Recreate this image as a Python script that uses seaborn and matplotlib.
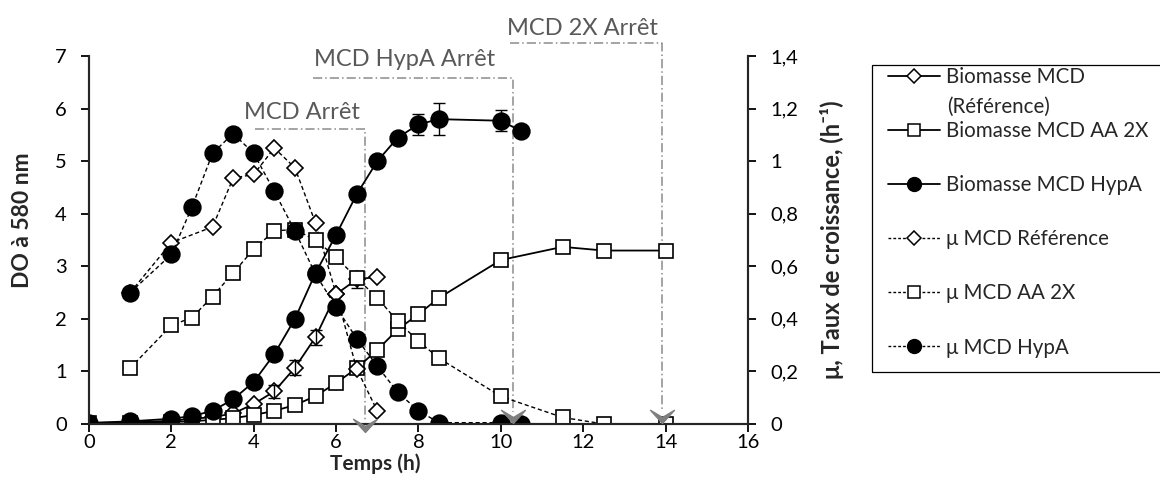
import matplotlib
matplotlib.use('Agg')
import matplotlib.pyplot as plt
import seaborn as sns
import numpy as np
from matplotlib.path import Path
from matplotlib.lines import Line2D
from matplotlib.patches import Rectangle
from matplotlib.ticker import FuncFormatter, MultipleLocator

# biomass (left axis, DO 580 nm)
t_bio_ref = [0, 1, 2, 2.5, 3, 3.5, 4, 4.5, 5, 5.5, 6, 6.5, 7]
bio_ref = [0.02, 0.03, 0.06, 0.1, 0.13, 0.2, 0.38, 0.62, 1.07, 1.65, 2.47, 2.75, 2.8]
t_bio_ref_err = [4.5, 5, 5.5, 6.5]
bio_ref_err = [0.13, 0.14, 0.14, 0.17]

t_bio_2x = [0, 1, 2, 2.5, 3, 3.5, 4, 4.5, 5, 5.5, 6, 6.5, 7, 7.5, 8, 8.5, 10, 11.5, 12.5, 14]
bio_2x = [0.02, 0.02, 0.04, 0.05, 0.08, 0.11, 0.17, 0.25, 0.36, 0.53, 0.78, 1.06, 1.41, 1.8, 2.09, 2.4, 3.12, 3.37, 3.3, 3.3]

t_bio_hypa = [0, 1, 2, 2.5, 3, 3.5, 4, 4.5, 5, 5.5, 6, 6.5, 7, 7.5, 8, 8.5, 10, 10.5]
bio_hypa = [0.02, 0.05, 0.1, 0.15, 0.25, 0.47, 0.8, 1.33, 2.0, 2.87, 3.6, 4.37, 5.0, 5.45, 5.7, 5.8, 5.77, 5.57]
t_bio_hypa_err = [8, 8.5, 10]
bio_hypa_err = [0.2, 0.31, 0.2]

# growth rate (right axis, h-1)
t_mu_ref = [1, 2, 3, 3.5, 4, 4.5, 5, 5.5, 6, 6.5, 7]
mu_ref = [0.5, 0.69, 0.75, 0.935, 0.95, 1.05, 0.975, 0.765, 0.495, 0.21, 0.05]

t_mu_2x = [1, 2, 2.5, 3, 3.5, 4, 4.5, 5, 5.5, 6, 6.5, 7, 7.5, 8, 8.5, 10, 11.5, 12.5, 14]
mu_2x = [0.213, 0.375, 0.405, 0.485, 0.575, 0.665, 0.735, 0.74, 0.7, 0.635, 0.555, 0.48, 0.39, 0.315, 0.25, 0.105, 0.025, 0.0, 0.0]

t_mu_hypa = [1, 2, 2.5, 3, 3.5, 4, 4.5, 5, 5.5, 6, 6.5, 7, 7.5, 8, 8.5, 10, 10.5]
mu_hypa = [0.5, 0.645, 0.825, 1.03, 1.105, 1.03, 0.885, 0.735, 0.57, 0.445, 0.325, 0.22, 0.12, 0.05, 0.005, 0.005, 0.0]

labels = ['Biomasse MCD', 'Biomasse MCD AA 2X', 'Biomasse MCD HypA',
          'μ MCD Référence', 'μ MCD AA 2X', 'μ MCD HypA']
label_cont = '(Référence)'

# stop annotations: label, x start of bracket, x of stop, y bracket, text x, text y, arrow tip y
stops = [('MCD Arrêt', 4.03, 6.7, 5.61, 5.18, 5.93, -0.15),
         ('MCD HypA Arrêt', 5.44, 10.29, 6.58, 7.66, 6.94, 0.02),
         ('MCD 2X Arrêt', 10.22, 13.91, 7.24, 11.97, 7.53, 0.02)]

sns.set_style('ticks')
plt.rcParams['font.family'] = ['Lato', 'DejaVu Sans']

fig = plt.figure(figsize=(11.6, 4.86), dpi=100)
ax = fig.add_axes([0.0767, 0.1276, 0.5681, 0.757])
ax2 = ax.twinx()

DASH = (0, (3, 2))


def draw(a, x, y, marker, ms, filled, ls, lw):
    sns.lineplot(x=x, y=y, ax=a, color='black', marker=marker, markersize=ms,
                 markerfacecolor='black' if filled else 'white',
                 markeredgecolor='black', markeredgewidth=1.2,
                 linestyle=ls, linewidth=lw, estimator=None, sort=False,
                 legend=False, errorbar=None)


draw(ax, t_bio_ref, bio_ref, 'D', 8.6, False, '-', 1.3)
draw(ax, t_bio_2x, bio_2x, 's', 10, False, '-', 1.3)
draw(ax, t_bio_hypa, bio_hypa, 'o', 12, True, '-', 1.3)
ax.errorbar(t_bio_ref_err, [bio_ref[t_bio_ref.index(t)] for t in t_bio_ref_err],
            yerr=bio_ref_err, fmt='none', ecolor='black', elinewidth=1, capsize=4, zorder=5)
ax.errorbar(t_bio_hypa_err, [bio_hypa[t_bio_hypa.index(t)] for t in t_bio_hypa_err],
            yerr=bio_hypa_err, fmt='none', ecolor='black', elinewidth=1, capsize=4, zorder=5)

draw(ax2, t_mu_ref, mu_ref, 'D', 8.6, False, DASH, 1.0)
draw(ax2, t_mu_2x, mu_2x, 's', 10, False, DASH, 1.0)
draw(ax2, t_mu_hypa, mu_hypa, 'o', 12, True, DASH, 1.0)

# chevron arrow head, tip at origin
chevron = Path([(0, 0), (-1, 1.1), (0, 0.5), (1, 1.1), (0, 0)],
               [Path.MOVETO, Path.LINETO, Path.LINETO, Path.LINETO, Path.CLOSEPOLY])
for lab, x0, x1, yl, xt, yt, tip in stops:
    ax.plot([x0, x1, x1], [yl, yl, tip + 0.2], color='#8c8c8c', lw=1.1,
            linestyle=(0, (6, 2, 1, 2)), clip_on=False, zorder=1)
    ax2.plot([x1], [tip / 5], marker=chevron, ms=19, color='#7f7f7f', mec='#7f7f7f',
             clip_on=False, zorder=6)
    ax.text(xt, yt, lab, ha='center', va='center', color='#595959', fontsize=17, clip_on=False)

ax.set_xlim(0, 16)
ax.set_ylim(0, 7)
ax2.set_ylim(0, 1.4)
ax.xaxis.set_major_locator(MultipleLocator(2))
ax.yaxis.set_major_locator(MultipleLocator(1))
ax2.yaxis.set_major_locator(MultipleLocator(0.2))
ax2.yaxis.set_major_formatter(FuncFormatter(lambda v, p: ('%g' % round(v, 1)).replace('.', ',')))

for a in (ax, ax2):
    a.spines['top'].set_visible(False)
    for s in a.spines.values():
        s.set_linewidth(1.5)
    a.tick_params(direction='out', length=6, width=1.3, labelsize=14.5, colors='black')
ax.tick_params(axis='y', pad=10)
ax2.tick_params(axis='y', pad=10)
ax.tick_params(axis='x', pad=1)

ax.set_xlabel('Temps (h)', fontsize=15, fontweight='bold')
ax.xaxis.set_label_coords(0.435, -0.079)
ax.set_ylabel('DO à 580 nm', fontsize=16.5, fontweight='bold')
ax.yaxis.set_label_coords(-0.085, 0.554)
ax2.set_ylabel('μ, Taux de croissance, (h⁻¹)', fontsize=17, fontweight='bold')
ax2.yaxis.set_label_coords(1.11, 0.5)

handles = [
    Line2D([], [], color='black', lw=1.3, marker='D', ms=7, mfc='white', mec='black', mew=1.1),
    Line2D([], [], color='black', lw=1.3, marker='s', ms=8, mfc='white', mec='black', mew=1.1),
    Line2D([], [], color='black', lw=1.3, marker='o', ms=10, mfc='black', mec='black'),
    Line2D([], [], color='black', lw=1.0, ls=(0, (2, 1.5)), marker='D', ms=7, mfc='white', mec='black', mew=1.1),
    Line2D([], [], color='black', lw=1.0, ls=(0, (2, 1.5)), marker='s', ms=8, mfc='white', mec='black', mew=1.1),
    Line2D([], [], color='black', lw=1.0, ls=(0, (2, 1.5)), marker='o', ms=10, mfc='black', mec='black'),
]
leg = fig.legend(handles, labels, loc='upper left', bbox_to_anchor=(888 / 1160, 1 - 67 / 486),
                 frameon=False, fontsize=14.8, labelspacing=1.66, handlelength=2.55,
                 handletextpad=0.25, borderpad=0, borderaxespad=0)
fig.text(947 / 1160, 1 - 107 / 486, label_cont, fontsize=14.8, ha='left', va='center')
fig.patches.append(Rectangle((872 / 1160, 1 - 372 / 486), 0.3, 307 / 486, transform=fig.transFigure,
                             fill=False, edgecolor='black', lw=0.9))

plt.savefig('out.png', dpi=100)
